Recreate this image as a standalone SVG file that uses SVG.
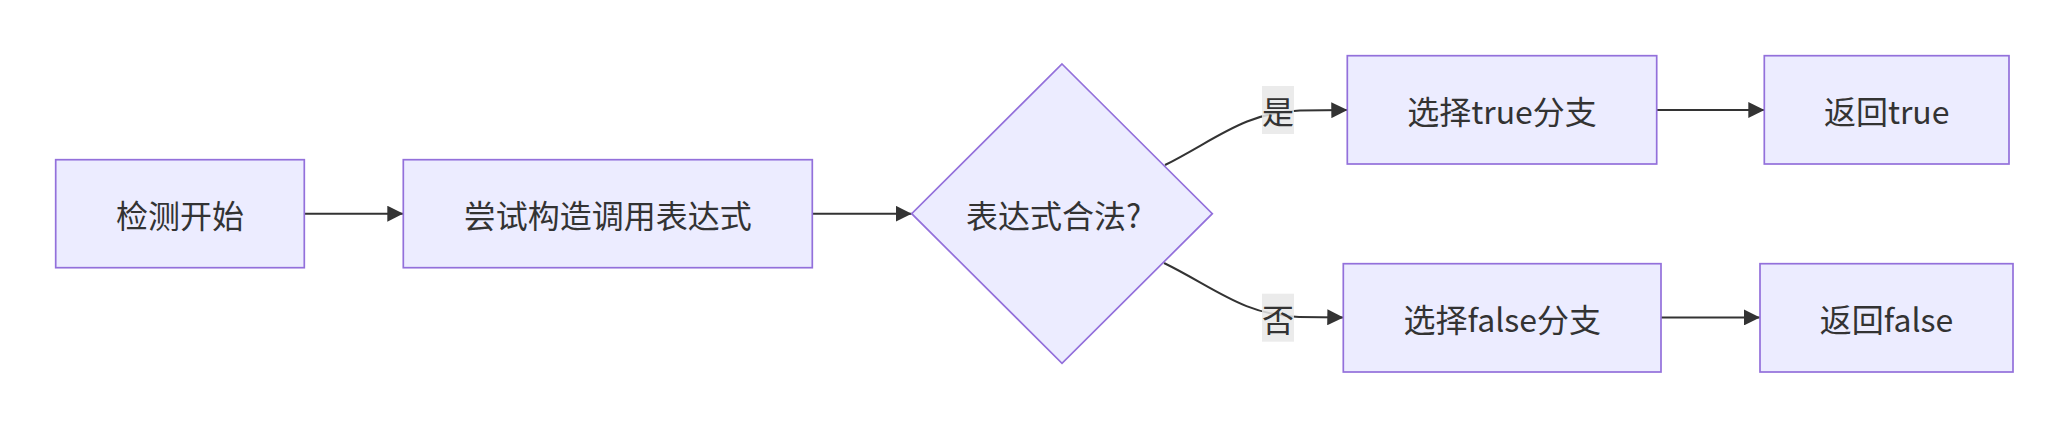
<svg xmlns="http://www.w3.org/2000/svg" width="2069" height="428" viewBox="0 0 2069 428">
<style>
.node rect, .node polygon { fill: #ECECFF; stroke: #9370DB; stroke-width: 1.7; }
.node text, .lbl text { font-family: "Noto Sans CJK SC", "Noto Sans", sans-serif; font-size: 32px; fill: #333333; dominant-baseline: central; }
.node text { text-anchor: middle; }
.lbl text { text-anchor: middle; }
.edges path { fill: none; stroke: #333333; stroke-width: 2; marker-end: url(#arrow); }
.lbl rect { fill: #e8e8e8; fill-opacity: 0.85; stroke: none; }
</style>
<defs>
<marker id="arrow" markerUnits="userSpaceOnUse" viewBox="0 0 16 16" refX="16" refY="8" markerWidth="16" markerHeight="16" orient="auto">
<path d="M0,0 L16,8 L0,16 z" fill="#333333"/>
</marker>
</defs>
<rect width="2069" height="428" fill="#ffffff"/>
<g id="edges" class="edges">
<path d="M304.3,213.7 L403.3,213.7"/>
<path d="M812.3,213.7 L911.7,213.7"/>
<path d="M1165,165 C1215,140 1245,112 1300,110.5 L1347.3,110"/>
<path d="M1164,263 C1214,287.4 1244,315.4 1299,316.9 L1343.3,317.5"/>
<path d="M1656.7,110 L1764.3,110"/>
<path d="M1661,317.4 L1760,317.4"/>
</g>
<g id="node-start" class="node">
<rect x="55.7" y="159.7" width="248.6" height="108"/>
<text x="180" y="213.5">检测开始</text>
</g>
<g id="node-try" class="node">
<rect x="403.3" y="159.7" width="409" height="108"/>
<text x="607.8" y="213.5">尝试构造调用表达式</text>
</g>
<g id="node-check" class="node">
<polygon points="1062,64 1212.3,213.7 1062,363.3 911.7,213.7"/>
<text x="966" y="213.5" style="text-anchor:start">表达式合法?</text>
</g>
<g id="node-true" class="node">
<rect x="1347.3" y="55.7" width="309.4" height="108.3"/>
<text x="1502" y="110">选择true分支</text>
</g>
<g id="node-false" class="node">
<rect x="1343.3" y="263.7" width="317.7" height="108.3"/>
<text x="1502.2" y="317.8">选择false分支</text>
</g>
<g id="node-rettrue" class="node">
<rect x="1764.3" y="55.7" width="244.7" height="108.3"/>
<text x="1886.7" y="110">返回true</text>
</g>
<g id="node-retfalse" class="node">
<rect x="1760" y="263.7" width="253" height="108.3"/>
<text x="1886.5" y="317.8">返回false</text>
</g>
<g id="label-yes" class="lbl">
<rect x="1262" y="86" width="32" height="48"/>
<text x="1278" y="110">是</text>
</g>
<g id="label-no" class="lbl">
<rect x="1262" y="293.7" width="32" height="48"/>
<text x="1278" y="317.7">否</text>
</g>
</svg>
